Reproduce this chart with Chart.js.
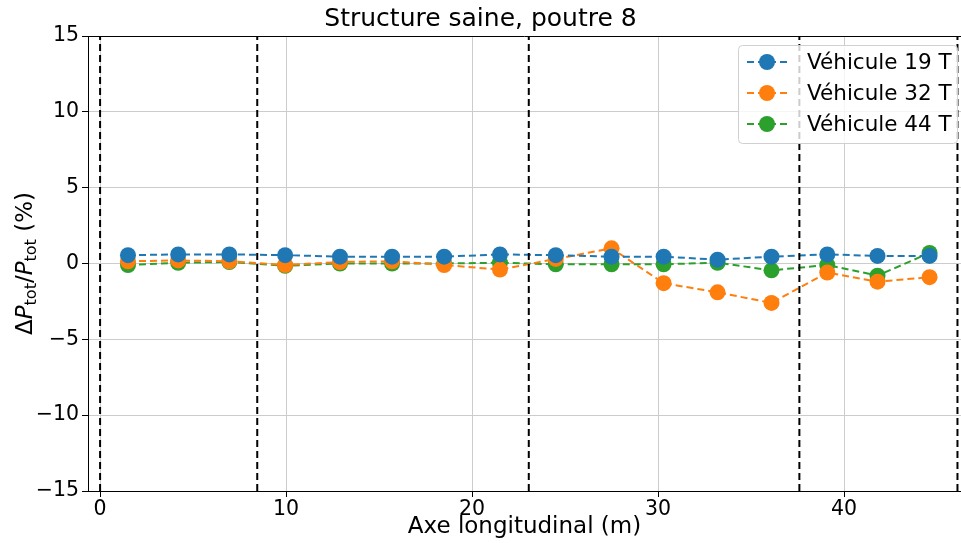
<!DOCTYPE html>
<html>
<head>
<meta charset="utf-8">
<script src="https://cdn.jsdelivr.net/npm/chart.js@4"></script>
<style>
  html, body { margin: 0; padding: 0; background: #fff; }
  #wrap { width: 961px; height: 543px; }
</style>
</head>
<body>
<div id="wrap"><canvas id="myChart" width="961" height="543"></canvas></div>
<script>
const positions = [1.5, 4.2, 6.95, 9.95, 12.9, 15.7, 18.5, 21.5, 24.5, 27.5, 30.3, 33.2, 36.1, 39.1, 41.8, 44.6]
const v19 = [0.55, 0.6, 0.6, 0.55, 0.45, 0.45, 0.45, 0.6, 0.55, 0.45, 0.45, 0.25, 0.45, 0.6, 0.5, 0.5]
const v32 = [0.15, 0.2, 0.15, -0.1, 0.1, 0.15, -0.1, -0.4, 0.3, 1.0, -1.3, -1.9, -2.6, -0.6, -1.2, -0.9]
const v44 = [-0.1, 0.05, 0.1, -0.15, 0.0, 0.0, 0.0, 0.05, -0.05, -0.05, -0.05, 0.05, -0.45, -0.1, -0.8, 0.7]
const supports = [0, 8.45, 23.05, 37.6, 46.1]
const xTicks = [0, 10, 20, 30, 40]
const yTicks = [-15, -10, -5, 0, 5, 10, 15]

const FONT = "'DejaVu Sans', sans-serif"
const ctx = document.getElementById("myChart").getContext("2d")

const series = [
    {label: "Véhicule 19 T", data: v19, color: "#1f77b4"},
    {label: "Véhicule 32 T", data: v32, color: "#ff7f0e"},
    {label: "Véhicule 44 T", data: v44, color: "#2ca02c"}
]

const datasets = []
supports.forEach(x => {
    datasets.push({
        label: "",
        data: [{x: x, y: -15}, {x: x, y: 15}],
        borderColor: "#000",
        borderWidth: 2,
        borderDash: [7, 4],
        pointRadius: 0,
        showLine: true
    })
})
series.forEach(s => {
    datasets.push({
        label: s.label,
        data: positions.map((x, i) => ({x: x, y: s.data[i]})),
        borderColor: s.color,
        backgroundColor: s.color,
        borderWidth: 2,
        borderDash: [7, 4],
        pointRadius: 8,
        pointBorderWidth: 0,
        showLine: true
    })
})

// top spine + y label with subscripts + custom legend
const extras = {
    id: "extras",
    afterDraw(chart) {
        const c = chart.ctx
        const a = chart.chartArea
        c.save()
        c.strokeStyle = "#000"
        c.lineWidth = 1
        c.beginPath()
        c.moveTo(a.left, a.top + 0.5)
        c.lineTo(a.right, a.top + 0.5)
        c.stroke()

        // y axis label
        c.translate(26, (a.top + a.bottom) / 2)
        c.rotate(-Math.PI / 2)
        c.fillStyle = "#000"
        c.textBaseline = "middle"
        const parts = [
            ["Δ", "23px " + FONT, 0],
            ["P", "italic 23px " + FONT, 0],
            ["tot", "16px " + FONT, 6],
            ["/", "23px " + FONT, 0],
            ["P", "italic 23px " + FONT, 0],
            ["tot", "16px " + FONT, 6],
            [" (%)", "23px " + FONT, 0]
        ]
        let total = 0
        parts.forEach(p => { c.font = p[1]; total += c.measureText(p[0]).width })
        let px = -total / 2
        parts.forEach(p => {
            c.font = p[1]
            c.fillText(p[0], px, p[2])
            px += c.measureText(p[0]).width
        })
        c.restore()

        // legend
        c.save()
        const lx = 738, ly = 45, lw = 219, lh = 98
        c.fillStyle = "rgba(255,255,255,0.8)"
        c.strokeStyle = "#d0d0d0"
        c.lineWidth = 1
        c.beginPath()
        c.roundRect(lx + 0.5, ly + 0.5, lw, lh, 4)
        c.fill()
        c.stroke()
        series.forEach((s, i) => {
            const yy = 62 + i * 31
            c.strokeStyle = s.color
            c.lineWidth = 2
            c.setLineDash([7, 4])
            c.beginPath()
            c.moveTo(747, yy)
            c.lineTo(788, yy)
            c.stroke()
            c.setLineDash([])
            c.fillStyle = s.color
            c.beginPath()
            c.arc(767, yy, 8, 0, Math.PI * 2)
            c.fill()
            c.fillStyle = "#000"
            c.font = "21.5px " + FONT
            c.textBaseline = "middle"
            c.fillText(s.label, 807, yy + 1)
        })
        c.restore()
    }
}

new Chart(ctx, {
    type: "scatter",
    data: {datasets: datasets},
    options: {
        responsive: false,
        animation: false,
        layout: {autoPadding: false, padding: {left: 0, right: 0, top: 1, bottom: 0}},
        plugins: {
            legend: {display: false},
            tooltip: {enabled: false},
            title: {
                display: true,
                text: "Structure saine, poutre 8",
                color: "#000",
                font: {family: FONT, size: 25, weight: "normal"},
                padding: {top: 3, bottom: 2}
            }
        },
        scales: {
            x: {
                type: "linear",
                min: -0.65,
                max: 46.29,
                afterBuildTicks: axis => { axis.ticks = xTicks.map(v => ({value: v})) },
                afterFit: axis => { axis.height = 52; axis.paddingRight = 0; axis.paddingLeft = 0 },
                ticks: {
                    color: "#000",
                    font: {family: FONT, size: 20.5},
                    padding: 0,
                    maxRotation: 0,
                    callback: v => String(v)
                },
                grid: {color: "#cccccc", lineWidth: 1, tickColor: "#000", tickLength: 6},
                border: {color: "#000", width: 1},
                title: {
                    display: true,
                    text: "Axe longitudinal (m)",
                    color: "#000",
                    font: {family: FONT, size: 23},
                    padding: {top: 0, bottom: 2}
                }
            },
            y: {
                min: -15,
                max: 15,
                afterBuildTicks: axis => { axis.ticks = yTicks.map(v => ({value: v})) },
                afterFit: axis => { axis.width = 88 },
                ticks: {
                    color: "#000",
                    font: {family: FONT, size: 20.5},
                    padding: 3,
                    callback: v => String(v).replace("-", "\u2212")
                },
                grid: {color: "#cccccc", lineWidth: 1, tickColor: "#000", tickLength: 6},
                border: {color: "#000", width: 1}
            }
        }
    },
    plugins: [extras]
})
</script>
</body>
</html>
